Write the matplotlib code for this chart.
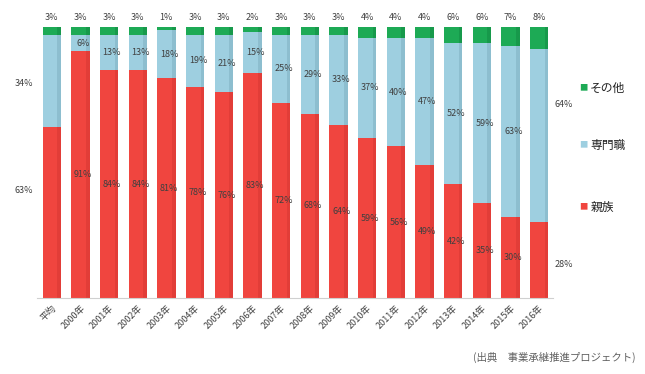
import matplotlib
matplotlib.use("Agg")
import matplotlib.pyplot as plt
import numpy as np

plt.rcParams['font.family'] = ['Noto Sans CJK JP', 'DejaVu Sans']

# categories and shares (%)
years = ['平均', '2000年', '2001年', '2002年', '2003年', '2004年', '2005年', '2006年',
         '2007年', '2008年', '2009年', '2010年', '2011年', '2012年', '2013年', '2014年',
         '2015年', '2016年']
family = [63, 91, 84, 84, 81, 78, 76, 83, 72, 68, 64, 59, 56, 49, 42, 35, 30, 28]
professional = [34, 6, 13, 13, 18, 19, 21, 15, 25, 29, 33, 37, 40, 47, 52, 59, 63, 64]
other = [3, 3, 3, 3, 1, 3, 3, 2, 3, 3, 3, 4, 4, 4, 6, 6, 7, 8]

c_red = '#F0453F'
c_blue = '#9ECFE0'
c_green = '#1DAA55'
c_text = '#404040'

fig = plt.figure(figsize=(6.45, 3.74), dpi=100)
ax = fig.add_axes([0.058, 0.203, 0.80, 0.725])

x = np.arange(len(years))
fam = np.array(family) / 100
pro = np.array(professional) / 100
oth = np.array(other) / 100

w = 0.64
ax.bar(x, fam, w, color=c_red, edgecolor='none')
ax.bar(x, pro, w, bottom=fam, color=c_blue, edgecolor='none')
ax.bar(x, oth, w, bottom=fam + pro, color=c_green, edgecolor='none')

# darker strip on the right of each bar, like the original
for xi, f, p, o in zip(x, fam, pro, oth):
    ax.bar(xi + w / 2 - 0.06, f, 0.12, color='#C8302C', alpha=0.35, edgecolor='none')
    ax.bar(xi + w / 2 - 0.06, p, 0.12, bottom=f, color='#6E9FB2', alpha=0.35, edgecolor='none')
    ax.bar(xi + w / 2 - 0.06, o, 0.12, bottom=f + p, color='#0E7A3A', alpha=0.35, edgecolor='none')

fs = 6.5
n = len(years)
for i in range(n):
    if i == 0:
        xl, ha = -0.65, 'right'
        yf = fam[i] * 0.63
        yp = fam[i] + pro[i] * 0.47
    elif i == n - 1:
        xl, ha = i + 0.55, 'left'
        yf = fam[i] * 0.44
        yp = fam[i] + pro[i] * 0.68
    else:
        xl, ha = i + 0.1, 'center'
        yf = fam[i] / 2
        yp = fam[i] + pro[i] / 2
    ax.text(xl, yf, f'{family[i]}%', ha=ha, va='center', fontsize=fs, color=c_text, clip_on=False)
    ax.text(xl, yp, f'{professional[i]}%', ha=ha, va='center', fontsize=fs, color=c_text, clip_on=False)
    ax.text(i, 1.035, f'{other[i]}%', ha='center', va='center', fontsize=fs, color=c_text, clip_on=False)

ax.set_xlim(-0.5, n - 0.5)
ax.set_ylim(0, 1)
ax.set_yticks([])
ax.set_xticks(x)
ax.set_xticklabels(years, rotation=45, ha='right', rotation_mode='anchor', fontsize=6.5, color=c_text)
ax.tick_params(axis='x', length=0, pad=4)
for s in ['top', 'right', 'left']:
    ax.spines[s].set_visible(False)
ax.spines['bottom'].set_color('#D0D0D0')

# legend on the right
for label, col, yy in [('その他', c_green, 0.765), ('専門職', c_blue, 0.612), ('親族', c_red, 0.446)]:
    fig.text(0.898, yy, '■', color=col, fontsize=6, ha='left', va='center')
    fig.text(0.915, yy, label, color='#222222', fontsize=8.5, ha='left', va='center')

fig.text(0.985, 0.045, '(出典　事業承継推進プロジェクト)', ha='right', va='center', fontsize=7.5, color='#606060')

fig.savefig('out.png', dpi=100, facecolor='white')
